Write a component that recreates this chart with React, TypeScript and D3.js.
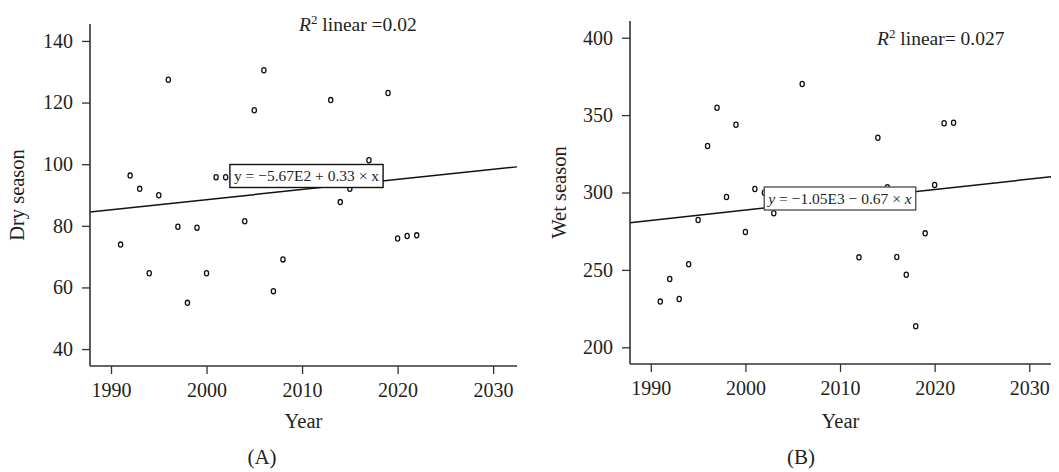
import React, { useEffect, useRef } from 'react'
import { select, scaleLinear, axisBottom, axisLeft, line } from 'd3'

// dry season (A)
const dryYears = [1991, 1992, 1993, 1994, 1995, 1996, 1997, 1998, 1999, 2000, 2001, 2002, 2004, 2005, 2006, 2007, 2008, 2013, 2014, 2015, 2017, 2018, 2019, 2020, 2021, 2022]
const dryValues = [73.9, 96.3, 92.0, 64.6, 89.9, 127.4, 79.7, 55.0, 79.4, 64.6, 95.8, 95.8, 81.5, 117.5, 130.5, 58.8, 69.1, 120.8, 87.7, 92.0, 101.3, 96.0, 123.1, 75.9, 76.7, 76.9]
const dryTicks = [40, 60, 80, 100, 120, 140]
const dryTrend = { intercept: -565.5, slope: 0.327 }

// wet season (B)
const wetYears = [1991, 1992, 1993, 1994, 1995, 1996, 1997, 1998, 1999, 2000, 2001, 2002, 2003, 2006, 2012, 2014, 2015, 2016, 2017, 2018, 2019, 2020, 2021, 2022]
const wetValues = [229.5, 244.1, 231.2, 253.6, 282.2, 330.0, 354.8, 297.1, 343.8, 274.5, 302.3, 299.9, 286.6, 370.1, 258.1, 335.4, 303.4, 258.3, 246.9, 213.6, 273.6, 304.8, 344.7, 345.1]
const wetTicks = [200, 250, 300, 350, 400]
const wetTrend = { intercept: -1045.4, slope: 0.667 }

const yearTicks = [1990, 2000, 2010, 2020, 2030]

const FONT = '"Liberation Serif", "DejaVu Serif", serif'
const INK = '#231f20'

const Panel = ({ years, values, yTicks, yDomain, xDomain, trend, frame, yLabel, letter, r2, equation }) => {
    const gRef = useRef()

    useEffect(() => {
        const g = select(gRef.current)
        const { left, right, top, bottom } = frame

        const xScale = scaleLinear().domain(xDomain).range([left, right])
        const yScale = scaleLinear().domain(yDomain).range([bottom, top])

        const xAxis = axisBottom(xScale).tickValues(yearTicks).tickFormat(d => String(d)).tickSize(8).tickSizeOuter(0).tickPadding(9)
        const yAxis = axisLeft(yScale).tickValues(yTicks).tickSize(8).tickSizeOuter(0).tickPadding(9)

        g.select('.x-axis')
            .attr('transform', `translate(0,${bottom})`)
            .call(xAxis)
        g.select('.y-axis')
            .attr('transform', `translate(${left},0)`)
            .call(yAxis)

        g.selectAll('.domain').attr('stroke', '#333').attr('stroke-width', 1.6)
        g.selectAll('.tick line').attr('stroke', '#333').attr('stroke-width', 1.3)
        g.selectAll('.tick text')
            .attr('font-family', FONT)
            .attr('font-size', 20)
            .attr('fill', INK)

        // x-axis spans the full plot width
        g.select('.x-axis .domain').attr('d', `M${left},0H${right}`)
        g.select('.y-axis .domain').attr('d', `M0,${top}V${bottom}`)

        g.select('.dots')
            .selectAll('ellipse')
            .data(years.map((yr, i) => [yr, values[i]]))
            .join('ellipse')
            .attr('cx', d => xScale(d[0]))
            .attr('cy', d => yScale(d[1]))
            .attr('rx', 2.1)
            .attr('ry', 2.6)
            .attr('fill', 'none')
            .attr('stroke', '#111')
            .attr('stroke-width', 1.3)

        const trendLine = line()
            .x(d => xScale(d))
            .y(d => yScale(trend.intercept + trend.slope * d))

        g.select('.trend')
            .attr('d', trendLine(xDomain))
            .attr('fill', 'none')
            .attr('stroke', '#111')
            .attr('stroke-width', 1.5)

        // equation box sized around its text
        const eqText = g.select('.eq-text')
        const w = eqText.node().getComputedTextLength()
        g.select('.eq-box')
            .attr('x', equation.cx - w / 2 - 4)
            .attr('y', equation.cy - 11.5)
            .attr('width', w + 8)
            .attr('height', 23)
    }, [])

    const midX = (frame.left + frame.right) / 2
    const midY = (frame.top + frame.bottom) / 2

    return (
        <g ref={gRef}>
            <g className='dots' />
            <path className='trend' />
            <g className='x-axis' />
            <g className='y-axis' />
            <rect className='eq-box' fill='#fff' stroke={equation.stroke} strokeWidth={1.4} />
            <text className='eq-text' x={equation.cx} y={equation.cy} dy='0.35em' textAnchor='middle'
                fontFamily={FONT} fontSize={15.5} fill={INK}>
                {equation.parts.map((p, i) => (
                    <tspan key={i} fontStyle={p.italic ? 'italic' : 'normal'}>{p.t}</tspan>
                ))}
            </text>
            <text x={r2.x} y={r2.y} fontFamily={FONT} fontSize={19.5} fill={INK}>
                <tspan fontStyle='italic'>R</tspan>
                <tspan dy={-7} fontSize={13}>2</tspan>
                <tspan dy={7}>{r2.text}</tspan>
            </text>
            <text transform={`translate(${yLabel.x},${midY}) rotate(-90)`} textAnchor='middle' dy='0.35em'
                fontFamily={FONT} fontSize={20.5} fill={INK}>{yLabel.text}</text>
            <text x={midX} y={421} dy='0.35em' textAnchor='middle' fontFamily={FONT} fontSize={20.5} fill={INK}>Year</text>
            <text x={letter.x} y={457} dy='0.35em' textAnchor='middle' fontFamily={FONT} fontSize={21} fill={INK}>{letter.text}</text>
        </g>
    )
}

const App = () => {
    return (
        <div style={{ position: 'absolute', left: 0, top: 0 }}>
            <svg width={1059} height={472} style={{ display: 'block', background: '#fff' }}>
                <Panel
                    years={dryYears}
                    values={dryValues}
                    yTicks={dryTicks}
                    yDomain={[34.5, 145.5]}
                    xDomain={[1987.8, 2032.5]}
                    trend={dryTrend}
                    frame={{ left: 90, right: 517, top: 24, bottom: 366 }}
                    yLabel={{ x: 17, text: 'Dry season' }}
                    letter={{ x: 262, text: '(A)' }}
                    r2={{ x: 299, y: 31, text: ' linear =0.02' }}
                    equation={{ cx: 306.5, cy: 176, stroke: '#111', parts: [{ t: 'y = −5.67E2 + 0.33 × x' }] }}
                />
                <Panel
                    years={wetYears}
                    values={wetValues}
                    yTicks={wetTicks}
                    yDomain={[189.2, 410.8]}
                    xDomain={[1987.8, 2032.3]}
                    trend={wetTrend}
                    frame={{ left: 630, right: 1051, top: 21, bottom: 364 }}
                    yLabel={{ x: 559, text: 'Wet season' }}
                    letter={{ x: 801, text: '(B)' }}
                    r2={{ x: 877, y: 45, text: ' linear= 0.027' }}
                    equation={{
                        cx: 840, cy: 198.5, stroke: '#555',
                        parts: [{ t: 'y', italic: true }, { t: ' = −1.05E3 − 0.67 × ' }, { t: 'x', italic: true }]
                    }}
                />
            </svg>
        </div>
    )
}

export default App
